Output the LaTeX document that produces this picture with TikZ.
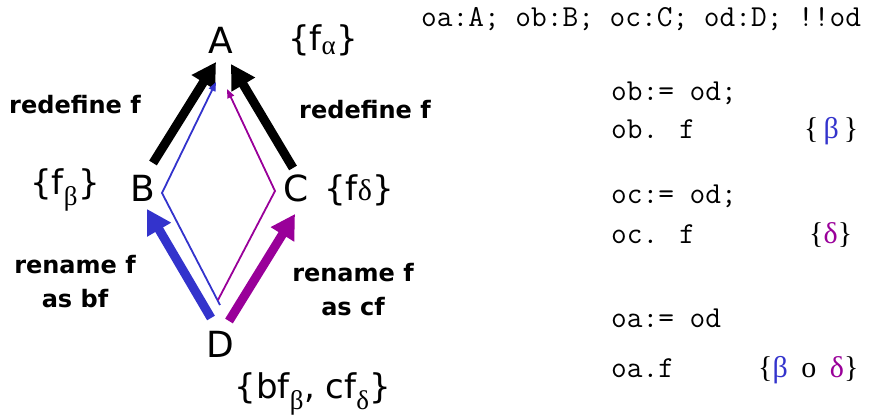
\documentclass[tikz,border=0pt]{standalone}
\usepackage{fontspec}
\setmainfont{DejaVu Sans}
\newfontfamily\seriff{Liberation Serif}
\usetikzlibrary{arrows.meta}
\definecolor{cblue}{RGB}{51,51,204}
\definecolor{cpurp}{RGB}{153,0,153}
\begin{document}
\begin{tikzpicture}[x=1pt,y=-1pt,
  big/.style={inner sep=0pt,font=\fontsize{36}{40}\selectfont},
  setlbl/.style={inner sep=0pt,font=\fontsize{34}{40}\selectfont},
  boldlbl/.style={inner sep=0pt,font=\fontsize{24}{28}\selectfont\bfseries,align=center},
  code/.style={inner sep=0pt,anchor=base west,font=\fontsize{30.5}{34}\selectfont\ttfamily},
  gset/.style={inner sep=0pt,anchor=base west,font=\fontsize{30}{34}\selectfont\seriff},
  thick arrow/.style={line width=9pt,-{Triangle[width=26pt,length=24pt]}},
  thin arrow/.style={line width=1.8pt,-{Triangle[width=7pt,length=9pt]}}]
\useasboundingbox (0,0) rectangle (874,418);
% nodes
\node[big] (A) at (221,40) {A};
\node[big] (B) at (143,188) {B};
\node[big] (C) at (296,188) {C};
\node[big] (D) at (220,344) {D};
\node[setlbl] (fa) at (323,40) {\{f$_{\hbox{\fontsize{27}{27}\seriff α}}$\}};
\node[setlbl] (fb) at (65,190) {\{f$_{\hbox{\fontsize{27}{27}\seriff β}}$\}};
\node[setlbl] (fd) at (359,190) {\{f{\fontsize{30}{30}\seriff δ}\}};
\node[setlbl] (fbc) at (313,394) {\{bf$_{\hbox{\fontsize{27}{27}\seriff β}}$, cf$_{\hbox{\fontsize{27}{27}\seriff δ}}$\}};
% labels
\node[boldlbl] (r1) at (75,105) {redefine f};
\node[boldlbl] (r2) at (365,110) {redefine f};
\node[boldlbl] (n1) at (75,282) {rename f\\[6pt]as bf};
\node[boldlbl] (n2) at (353,290) {rename f\\[6pt]as cf};
% arrow coordinates
\coordinate (bA0) at (153,163);
\coordinate (bA1) at (216,62);
\coordinate (cA0) at (293,168);
\coordinate (cA1) at (231,64);
\coordinate (dB0) at (211,318);
\coordinate (dB1) at (147,209);
\coordinate (dC0) at (229,321);
\coordinate (dC1) at (295,214);
\coordinate (bl0) at (220,305);
\coordinate (blm) at (162,193);
\coordinate (bl1) at (216,82);
\coordinate (pu0) at (218,300);
\coordinate (pum) at (275,191);
\coordinate (pu1) at (227,89);
% arrows
\draw[thick arrow] (bA0) -- (bA1);
\draw[thick arrow] (cA0) -- (cA1);
\draw[thick arrow,cblue] (dB0) -- (dB1);
\draw[thick arrow,cpurp] (dC0) -- (dC1);
\draw[thin arrow,cblue] (bl0) -- (blm) -- (bl1);
\draw[thin arrow,cpurp] (pu0) -- (pum) -- (pu1);
% code
\node[code] (c1) at (421,26) {oa:A; ob:B; oc:C; od:D; !!od};
\node[code] (c2) at (611,100) {ob:= od;};
\node[code] (c3) at (611,138) {ob. f};
\node[code] (c4) at (611,203) {oc:= od;};
\node[code] (c5) at (611,243) {oc. f};
\node[code] (c6) at (611,327) {oa:= od};
\node[code] (c7) at (611,377) {oa.f};
\node[gset] (g1) at (804,138) {\{\,{\color{cblue}β}\,\}};
\node[gset] (g2) at (809,243) {\{{\color{cpurp}δ}\}};
\node[gset] (g3) at (758,377) {\{{\color{cblue}β}\hspace{0.45em}o\hspace{0.45em}{\color{cpurp}δ}\}};
\end{tikzpicture}
\end{document}
